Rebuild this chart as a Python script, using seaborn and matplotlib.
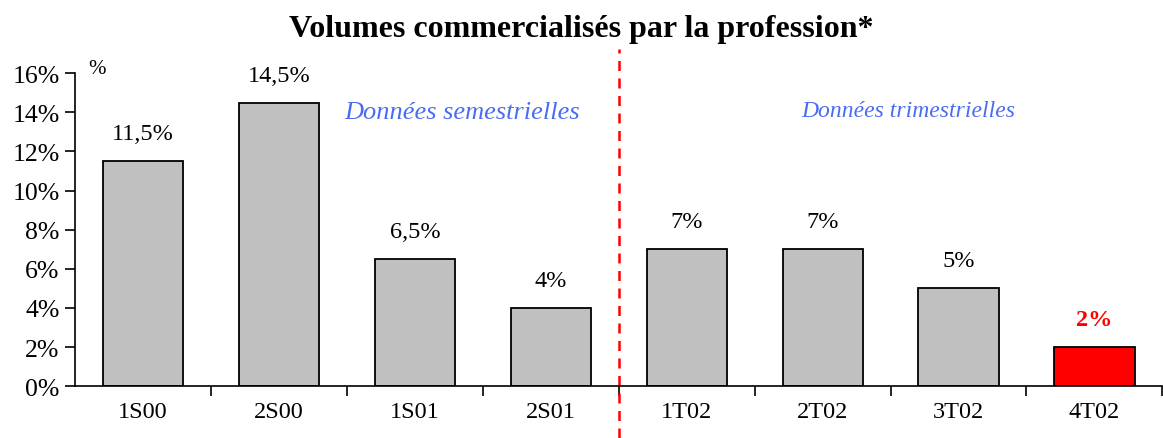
import matplotlib
matplotlib.use("Agg")
import matplotlib.pyplot as plt
import seaborn as sns
import pandas as pd
from matplotlib.ticker import FixedLocator, FuncFormatter

# Chart data
periods = ["1S00", "2S00", "1S01", "2S01", "1T02", "2T02", "3T02", "4T02"]
volumes = [11.5, 14.5, 6.5, 4.0, 7.0, 7.0, 5.0, 2.0]
value_labels = ["11,5%", "14,5%", "6,5%", "4%", "7%", "7%", "5%", "2%"]
bar_colors = ["#c0c0c0"] * 7 + ["#ff0000"]

sns.set_theme(style="ticks")
plt.rcParams["font.family"] = ["Liberation Serif", "DejaVu Serif"]
plt.rcParams["text.color"] = "black"
plt.rcParams["xtick.color"] = "black"
plt.rcParams["ytick.color"] = "black"

df = pd.DataFrame({"periode": periods, "volume": volumes})

fig = plt.figure(figsize=(11.63, 4.39), dpi=100)
ax = fig.add_axes([0.0645, 0.118, 0.935, 0.713])

sns.barplot(data=df, x="periode", y="volume", hue="periode", palette=bar_colors,
            legend=False, width=0.59, edgecolor="black", linewidth=1.3,
            saturation=1, ax=ax)

ax.set_xlim(-0.5, 7.5)
ax.set_ylim(0, 16)
ax.set_yticks(range(0, 17, 2))
ax.yaxis.set_major_formatter(FuncFormatter(lambda v, p: f"{int(v)}%"))
ax.tick_params(axis="y", labelsize=18.5, length=7, width=1.2, direction="out", pad=4)

# x ticks sit on the category boundaries, labels centred under the bars
ax.xaxis.set_major_locator(FixedLocator([i + 0.5 for i in range(len(periods))]))
ax.xaxis.set_minor_locator(FixedLocator(range(len(periods))))
ax.set_xticklabels([], minor=False)
ax.set_xticklabels(periods, minor=True)
ax.tick_params(axis="x", which="major", length=7, width=1.2, direction="out")
ax.tick_params(axis="x", which="minor", length=0, labelsize=17.5, pad=11)

ax.set_xlabel("")
ax.set_ylabel("")
for side in ["top", "right"]:
    ax.spines[side].set_visible(False)
for side in ["left", "bottom"]:
    ax.spines[side].set_linewidth(1.2)
    ax.spines[side].set_color("black")

for i, (v, lab) in enumerate(zip(volumes, value_labels)):
    if i == len(volumes) - 1:
        ax.text(i, v + 1.4, lab, ha="center", va="center", fontsize=17.5,
                color="#ff0000", fontweight="bold")
    else:
        ax.text(i, v + 1.4, lab, ha="center", va="center", fontsize=17.5)

# separator between semester and quarter data
ax.axvline(3.5, ymin=-0.166, ymax=1.077, color="#ff0000", linestyle=(0, (4, 3)),
           linewidth=1.8, clip_on=False)

ax.text(-0.34, 16.25, "%", fontsize=15, ha="center", va="center")
ax.text(2.35, 14.0, "Données semestrielles", fontsize=19, style="italic",
        color="#4a6cf0", ha="center", va="center")
ax.text(5.63, 14.1, "Données trimestrielles", fontsize=17, style="italic",
        color="#4a6cf0", ha="center", va="center")

fig.suptitle("Volumes commercialisés par la profession*", fontsize=23,
             fontweight="bold", y=0.965)

fig.savefig("out.png", dpi=100)
